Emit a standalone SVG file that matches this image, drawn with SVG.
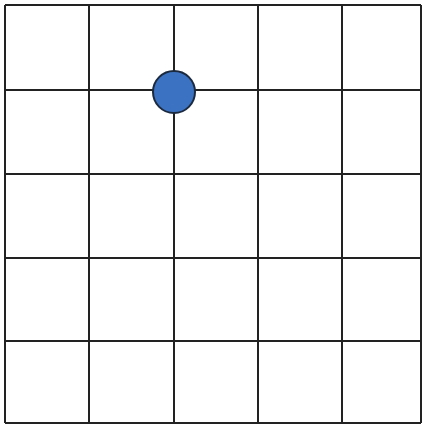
<svg xmlns="http://www.w3.org/2000/svg" width="422" height="425" viewBox="0 0 422 425">
<style>
.g{stroke:#222;stroke-width:2;fill:none}
.dot{fill:#3b72c2;stroke:#1c2a40;stroke-width:2}
</style>
<rect width="422" height="425" fill="#fff"/>
<g id="connectors">
<line class="g" x1="5" y1="5" x2="5" y2="423"/>
<line class="g" x1="89" y1="5" x2="89" y2="423"/>
<line class="g" x1="174" y1="5" x2="174" y2="423"/>
<line class="g" x1="258" y1="5" x2="258" y2="423"/>
<line class="g" x1="342" y1="5" x2="342" y2="423"/>
<line class="g" x1="421" y1="5" x2="421" y2="423"/>
<line class="g" x1="5" y1="5" x2="421" y2="5"/>
<line class="g" x1="5" y1="90" x2="421" y2="90"/>
<line class="g" x1="5" y1="174" x2="421" y2="174"/>
<line class="g" x1="5" y1="258" x2="421" y2="258"/>
<line class="g" x1="5" y1="341" x2="421" y2="341"/>
<line class="g" x1="5" y1="423" x2="421" y2="423"/>
</g>
<g id="node-dot">
<circle class="dot" cx="174" cy="92" r="21"/>
</g>
</svg>
